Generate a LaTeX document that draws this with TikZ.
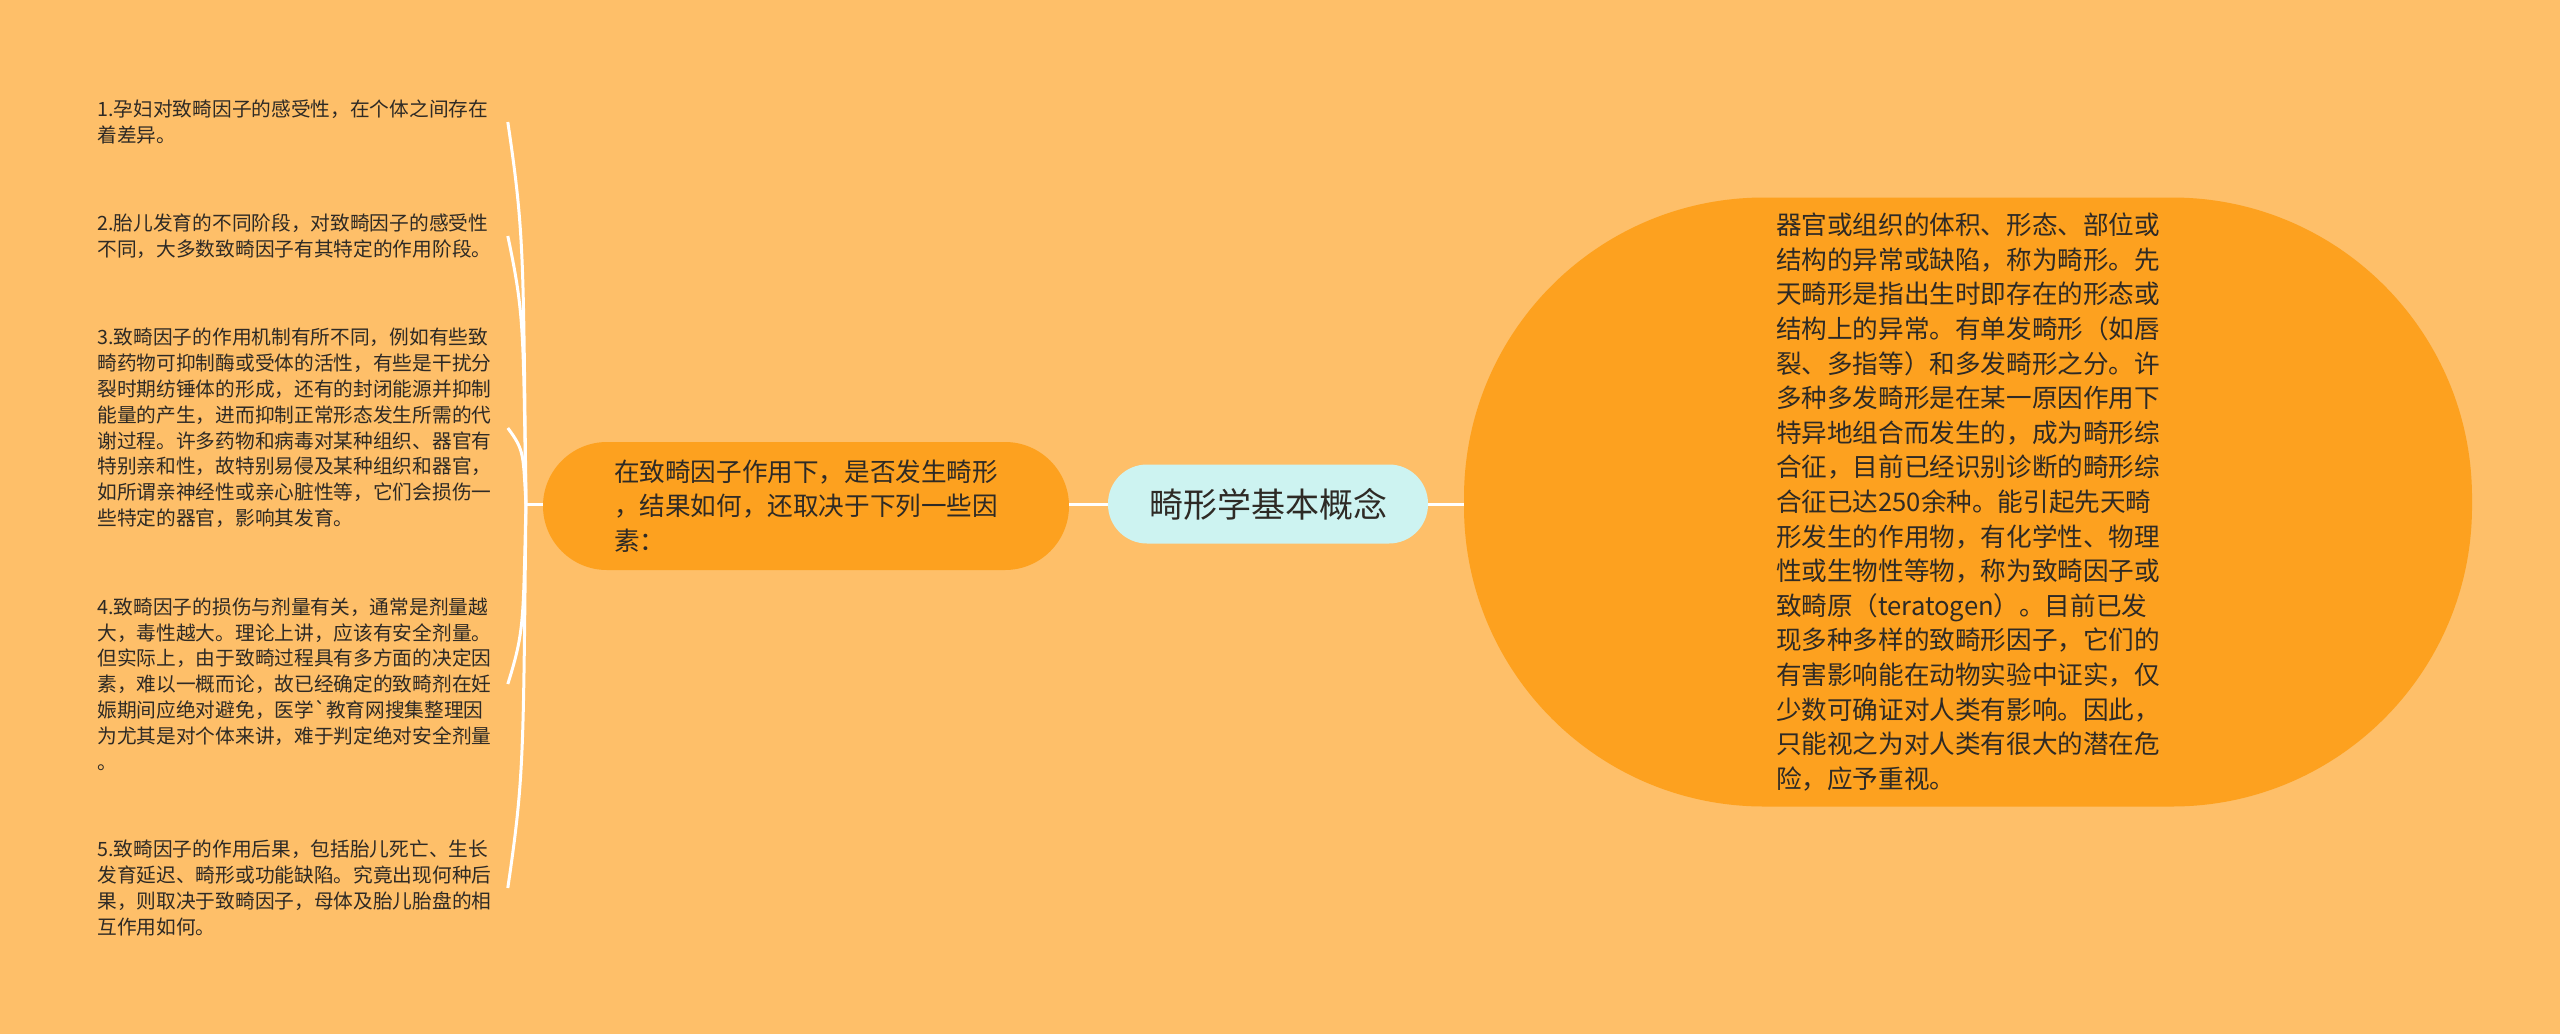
\documentclass[tikz,border=0pt]{standalone}
\usepackage{fontspec}
\usepackage{tikz}
\newfontfamily\cjk{Noto Sans CJK SC}[Ligatures=TeXOff]
\definecolor{paper}{HTML}{FEBF69}
\definecolor{pumpkin}{HTML}{FDA11F}
\definecolor{mint}{HTML}{CDF3F1}
\definecolor{ink}{HTML}{2E2A25}
\def\bigtext{\cjk\fontsize{12.8pt}{17.3pt}\selectfont}
\def\smalltext{\cjk\fontsize{9.85pt}{12.9pt}\selectfont}

\tikzset{
	branch/.style={draw=white,line width=1.5pt},
	pill/.style={rectangle,inner sep=0pt,align=left,text=ink,font=\bigtext},
	leaf/.style={anchor=west,inner sep=0pt,text width=205pt,align=left,text=ink,font=\smalltext}
}

\begin{document}
\begin{tikzpicture}[x=0.5pt,y=-0.5pt]
			\fill[paper] (0,0) rectangle (2560,1034);
			\useasboundingbox (0,0) rectangle (2560,1034);
			\node[pill,fill=mint,minimum width=160pt,minimum height=39.5pt,rounded corners=19.5pt,align=center,font=\cjk\fontsize{17pt}{20pt}\selectfont] (concept) at (1268,504) {畸形学基本概念};
			\node[pill,fill=pumpkin,minimum width=263pt,minimum height=64pt,rounded corners=32pt] (factor) at (806,506) {在致畸因子作用下，是否发生畸形\\，结果如何，还取决于下列一些因\\素：};
			\node[pill,fill=pumpkin,minimum width=504pt,minimum height=304.5pt,rounded corners=150pt] (define) at (1968,502) {器官或组织的体积、形态、部位或\\结构的异常或缺陷，称为畸形。先\\天畸形是指出生时即存在的形态或\\结构上的异常。有单发畸形（如唇\\裂、多指等）和多发畸形之分。许\\多种多发畸形是在某一原因作用下\\特异地组合而发生的，成为畸形综\\合征，目前已经识别诊断的畸形综\\合征已达250余种。能引起先天畸\\形发生的作用物，有化学性、物理\\性或生物性等物，称为致畸因子或\\致畸原（teratogen）。目前已发\\现多种多样的致畸形因子，它们的\\有害影响能在动物实验中证实，仅\\少数可确证对人类有影响。因此，\\只能视之为对人类有很大的潜在危\\险，应予重视。};
			\node[leaf] (cause1) at (97,122) {1.孕妇对致畸因子的感受性，在个体之间存在\\着差异。};
			\node[leaf] (cause2) at (97,236) {2.胎儿发育的不同阶段，对致畸因子的感受性\\不同，大多数致畸因子有其特定的作用阶段。};
			\node[leaf] (cause3) at (97,428) {3.致畸因子的作用机制有所不同，例如有些致\\畸药物可抑制酶或受体的活性，有些是干扰分\\裂时期纺锤体的形成，还有的封闭能源并抑制\\能量的产生，进而抑制正常形态发生所需的代\\谢过程。许多药物和病毒对某种组织、器官有\\特别亲和性，故特别易侵及某种组织和器官，\\如所谓亲神经性或亲心脏性等，它们会损伤一\\些特定的器官，影响其发育。};
			\node[leaf] (cause4) at (97,684) {4.致畸因子的损伤与剂量有关，通常是剂量越\\大，毒性越大。理论上讲，应该有安全剂量。\\但实际上，由于致畸过程具有多方面的决定因\\素，难以一概而论，故已经确定的致畸剂在妊\\娠期间应绝对避免，医学`教育网搜集整理因\\为尤其是对个体来讲，难于判定绝对安全剂量\\。};
			\node[leaf] (cause5) at (97,888) {5.致畸因子的作用后果，包括胎儿死亡、生长\\发育延迟、畸形或功能缺陷。究竟出现何种后\\果，则取决于致畸因子，母体及胎儿胎盘的相\\互作用如何。};
			\coordinate (hub) at (526,504);
			\draw[branch] (hub) -- (factor.west |- hub);
			\draw[branch] (factor.east |- concept) -- (concept.west);
			\draw[branch] (concept.east) -- (define.west |- concept);
			\foreach \leafname/\dy in {cause1/-382,cause2/-268,cause3/-76,cause4/180,cause5/384}
				\draw[branch] (hub) .. controls +(-3,{0.65*\dy}) and +(17,{-0.3*\dy}) .. (\leafname.east);
		\end{tikzpicture}
\end{document}
